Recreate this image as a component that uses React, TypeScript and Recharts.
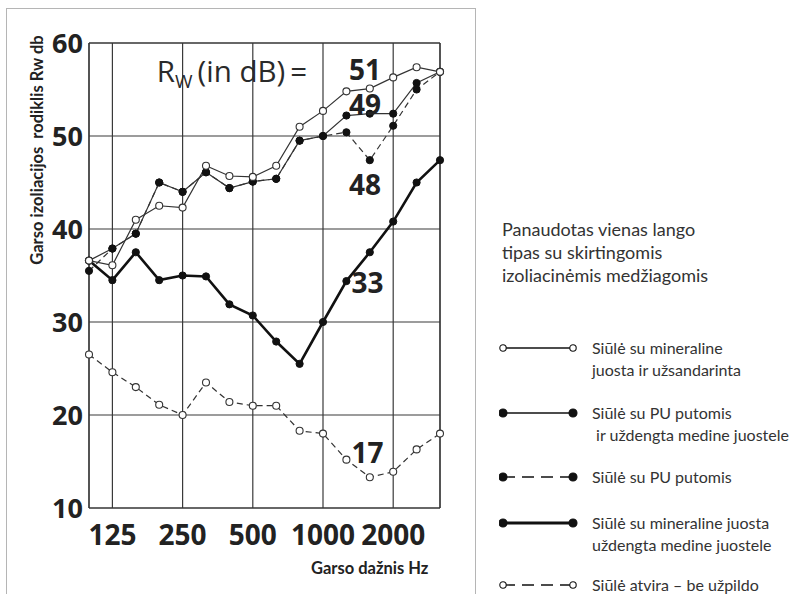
import React from 'react';
import {
  LineChart,
  Line,
  XAxis,
  YAxis,
  CartesianGrid,
  ReferenceLine,
  ReferenceDot,
} from 'recharts';

// 1/3-octave band centre frequencies (Hz)
const freqLabels = ['100', '125', '160', '200', '250', '315', '400', '500', '630', '800', '1000', '1250', '1600', '2000', '2500', '3150'];
const xTickIdx = [1, 4, 7, 10, 13];
const yTicks = [10, 20, 30, 40, 50, 60];

// Rw 51 – open circles, thin solid
const mineralSealed = [36.6, 36.1, 41.0, 42.5, 42.3, 46.8, 45.7, 45.6, 46.8, 51.0, 52.7, 54.8, 55.1, 56.3, 57.4, 56.9];
// Rw 49 – filled circles, thin solid
const puCovered = [36.6, 37.9, 39.5, 45.0, 44.0, 46.1, 44.4, 45.1, 45.4, 49.5, 50.0, 52.2, 52.4, 52.4, 55.7, 56.9];
// Rw 48 – filled circles, dashed
const puFoam = [35.5, 37.9, 39.5, 45.0, 44.0, 46.1, 44.4, 45.1, 45.4, 49.5, 50.0, 50.4, 47.4, 51.1, 55.0, 56.9];
// Rw 33 – filled circles, thick solid
const mineralCovered = [36.6, 34.5, 37.5, 34.5, 35.0, 34.9, 31.9, 30.7, 27.9, 25.5, 30.0, 34.4, 37.5, 40.8, 45.0, 47.4];
// Rw 17 – open circles, dashed
const openSeam = [26.5, 24.6, 23.0, 21.1, 20.0, 23.5, 21.4, 21.0, 21.0, 18.3, 18.0, 15.2, 13.3, 13.9, 16.3, 18.0];

const rwLabels = [
  { text: '51', x: 11.8, y: 57.1 },
  { text: '49', x: 11.8, y: 53.3 },
  { text: '48', x: 11.8, y: 44.7 },
  { text: '33', x: 11.9, y: 34.2 },
  { text: '17', x: 11.9, y: 15.9 },
];

const legendHeading = ['Panaudotas vienas lango', 'tipas su skirtingomis', 'izoliacinėmis medžiagomis'];
const legendItems = [
  { lines: ['Siūlė su mineraline', 'juosta ir užsandarinta'], filled: false, dashed: false, thick: false },
  { lines: ['Siūlė su PU putomis', ' ir uždengta medine juostele'], filled: true, dashed: false, thick: false },
  { lines: ['Siūlė su PU putomis'], filled: true, dashed: true, thick: false },
  { lines: ['Siūlė su mineraline juosta', 'uždengta medine juostele'], filled: true, dashed: false, thick: true },
  { lines: ['Siūlė atvira – be užpildo'], filled: false, dashed: true, thick: false },
];
const legendY = [348, 413, 477, 523, 585];

const data = freqLabels.map((f, i) => ({
  idx: i,
  freq: f,
  a: mineralSealed[i],
  b: puCovered[i],
  c: puFoam[i],
  d: mineralCovered[i],
  e: openSeam[i],
}));

const FONT = '"Open Sans", "DejaVu Sans", sans-serif';
const LFONT = 'Lato, "Open Sans", sans-serif';

const openDot = { r: 3.5, fill: '#fff', stroke: '#333', strokeWidth: 1.1, strokeDasharray: 'none' };
const fillDot = { r: 3.6, fill: '#111', stroke: '#111', strokeWidth: 1, strokeDasharray: 'none' };

const RwTitle = (props: any) => {
  const vb = props.viewBox || {};
  const x = (vb.x || 0) + (vb.width || 0) / 2;
  const y = (vb.y || 0) + (vb.height || 0) / 2;
  return (
    <text x={x} y={y} fill="#2a2a2a" fontFamily={FONT} fontSize={29.5} textAnchor="start">
      <tspan>R</tspan>
      <tspan fontSize={19} dy={6}>W</tspan>
      <tspan dy={-6}>{'\u2009(in dB)\u2009='}</tspan>
    </text>
  );
};

const LegendSymbol = ({ filled, dashed, thick }: { filled: boolean; dashed: boolean; thick: boolean }) => (
  <svg width={80} height={14} style={{ position: 'absolute', left: 0, top: -7 }}>
    <line
      x1={4}
      y1={7}
      x2={74}
      y2={7}
      stroke="#111"
      strokeWidth={thick ? 3.2 : 1.4}
      strokeDasharray={dashed ? '12 7' : undefined}
    />
    <circle cx={4} cy={7} r={filled ? 4 : 3.2} fill={filled ? '#111' : '#fff'} stroke="#111" strokeWidth={1.1} />
    <circle cx={74} cy={7} r={filled ? 4 : 3.2} fill={filled ? '#111' : '#fff'} stroke="#111" strokeWidth={1.1} />
  </svg>
);

export default function App() {
  return (
    <div style={{ position: 'absolute', left: 0, top: 0, width: 798, height: 594, background: '#fff', overflow: 'hidden' }}>
      {/* outer frame */}
      <div
        style={{
          position: 'absolute',
          left: 6,
          top: 8,
          width: 468,
          height: 600,
          borderLeft: '1px solid #b5b5b5',
          borderTop: '1px solid #b5b5b5',
          borderRight: '1px solid #b5b5b5',
        }}
      />
      <div style={{ position: 'absolute', left: 0, top: 0 }}>
        <LineChart width={798} height={594} data={data} margin={{ top: 43, right: 358, left: 29, bottom: 46 }}>
          <CartesianGrid stroke="#3a3a3a" strokeWidth={1.2} />
          <XAxis
            dataKey="idx"
            type="number"
            domain={[0, 15]}
            ticks={xTickIdx}
            tickFormatter={(v: number) => freqLabels[v]}
            interval={0}
            tickLine={false}
            tickSize={0}
            tickMargin={17}
            height={40}
            axisLine={{ stroke: '#333', strokeWidth: 1.2 }}
            tick={{ fill: '#222', fontSize: 28, fontWeight: 700, fontFamily: FONT }}
          />
          <YAxis
            type="number"
            domain={[10, 60]}
            ticks={yTicks}
            interval={0}
            width={60}
            tickLine={false}
            tickSize={0}
            tickMargin={6}
            axisLine={{ stroke: '#333', strokeWidth: 1.2 }}
            tick={{ fill: '#222', fontSize: 27, fontWeight: 700, fontFamily: FONT }}
          />
          <ReferenceLine x={15} stroke="#333" strokeWidth={1.2} />
          <ReferenceLine y={60} stroke="#333" strokeWidth={1.2} />
          <Line dataKey="e" stroke="#333" strokeWidth={1.2} strokeDasharray="6 4" dot={openDot} isAnimationActive={false} />
          <Line dataKey="d" stroke="#111" strokeWidth={2.6} dot={fillDot} isAnimationActive={false} />
          <Line dataKey="c" stroke="#333" strokeWidth={1.2} strokeDasharray="6 4" dot={fillDot} isAnimationActive={false} />
          <Line dataKey="b" stroke="#333" strokeWidth={1.2} dot={fillDot} isAnimationActive={false} />
          <Line dataKey="a" stroke="#333" strokeWidth={1.2} dot={openDot} isAnimationActive={false} />
          <ReferenceDot x={2.9} y={55.8} r={0} fill="none" stroke="none" label={<RwTitle />} />
          {rwLabels.map((l) => (
            <ReferenceDot
              key={l.text}
              x={l.x}
              y={l.y}
              r={0}
              fill="none"
              stroke="none"
              label={{ value: l.text, position: 'center', fill: '#222', fontSize: 28, fontWeight: 700, fontFamily: FONT }}
            />
          ))}
        </LineChart>
      </div>
      {/* axis titles */}
      <div
        style={{
          position: 'absolute',
          left: 37,
          top: 150,
          transform: 'translate(-50%, -50%) rotate(-90deg)',
          whiteSpace: 'pre',
          fontFamily: LFONT,
          fontWeight: 700,
          fontSize: 16.5,
          color: '#222',
        }}
      >
        {'Garso izoliacijos  rodiklis Rw db'}
      </div>
      <div
        style={{
          position: 'absolute',
          left: 311,
          top: 568,
          transform: 'translateY(-50%)',
          whiteSpace: 'pre',
          fontFamily: LFONT,
          fontWeight: 700,
          fontSize: 16.5,
          color: '#222',
        }}
      >
        Garso dažnis Hz
      </div>
      {/* legend */}
      <div
        style={{
          position: 'absolute',
          left: 502,
          top: 218,
          fontFamily: LFONT,
          fontSize: 18,
          lineHeight: '23px',
          color: '#333',
          whiteSpace: 'pre',
        }}
      >
        {legendHeading.map((t) => (
          <div key={t}>{t}</div>
        ))}
      </div>
      {legendItems.map((it, i) => (
        <div key={i} style={{ position: 'absolute', left: 499, top: legendY[i] }}>
          <LegendSymbol filled={it.filled} dashed={it.dashed} thick={it.thick} />
          <div
            style={{
              position: 'absolute',
              left: 93,
              top: -11,
              fontFamily: LFONT,
              fontSize: 16,
              lineHeight: '22px',
              color: '#333',
              whiteSpace: 'pre',
            }}
          >
            {it.lines.map((t, j) => (
              <div key={j}>{t}</div>
            ))}
          </div>
        </div>
      ))}
    </div>
  );
}
